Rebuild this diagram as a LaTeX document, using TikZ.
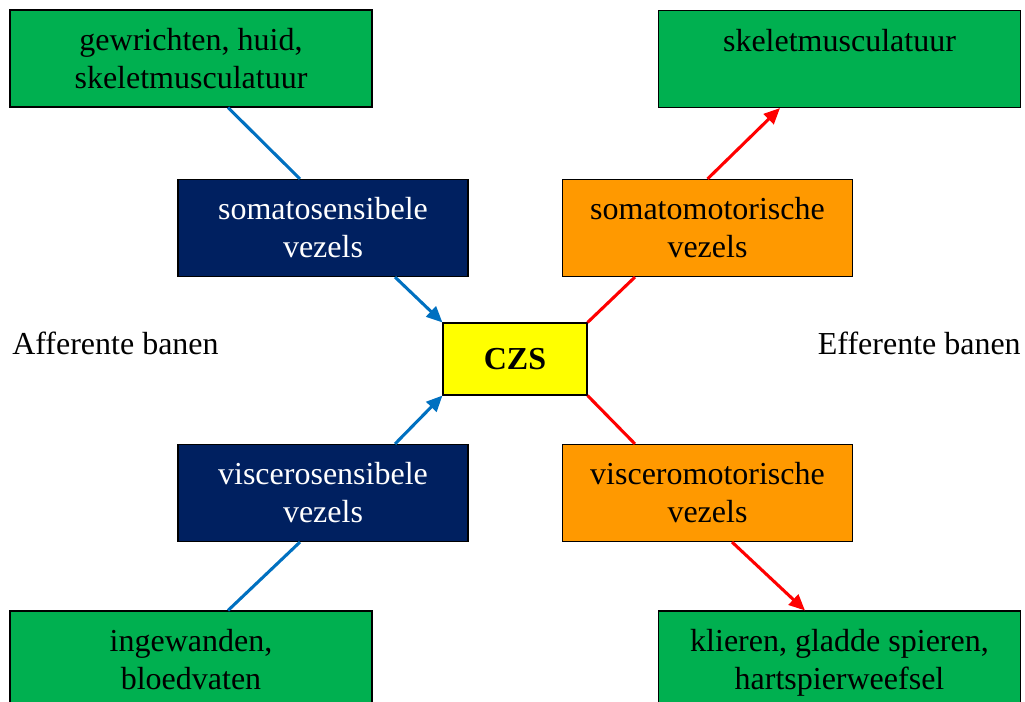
\documentclass[tikz,border=0pt]{standalone}
\usepackage{fontspec}
\setmainfont{Liberation Serif}
\usetikzlibrary{arrows.meta,calc}
\definecolor{organgreen}{RGB}{0,176,80}
\definecolor{sensblue}{RGB}{0,32,96}
\definecolor{motororange}{RGB}{255,153,0}
\definecolor{czsyellow}{RGB}{255,255,0}
\definecolor{affblue}{RGB}{0,112,192}
\definecolor{effred}{RGB}{255,0,0}
\newcommand{\boxfont}{\fontsize{24}{28.5}\selectfont}
\tikzset{
  box/.style={draw=black,line width=0.8pt,inner sep=0pt,align=center,font=\boxfont},
  organ/.style={box,fill=organgreen,minimum width=271.5pt,minimum height=72.75pt},
  organtext/.style={inner sep=0pt,align=center,anchor=north,font=\boxfont},
  sensory/.style={box,fill=sensblue,text=white,minimum width=217.5pt,minimum height=72.75pt},
  motor/.style={box,fill=motororange,minimum width=217pt,minimum height=72.75pt},
  centre/.style={box,fill=czsyellow,minimum width=108pt,minimum height=54pt,font=\boxfont\bfseries},
  afferent/.style={draw=affblue,line width=2.3pt},
  efferent/.style={draw=effred,line width=2.3pt},
  arrowed/.style={-{Triangle[length=12pt,width=10.5pt]}},
  side/.style={inner sep=0pt,font=\boxfont},
}
\begin{document}
\begin{tikzpicture}[x=0.75pt,y=-0.75pt]
  \useasboundingbox (0,0) rectangle (1025,702);

  \node[organ] (joints) at (191,58.5) {};
  \node[organtext] (jointstext) at ($(joints.north)+(0,19)$) {gewrichten, huid,\\skeletmusculatuur};
  \node[organ] (muscle) at (839.5,59) {};
  \node[organtext] (muscletext) at ($(muscle.north)+(0,19)$) {skeletmusculatuur};
  \node[organ] (viscera) at (191,659.5) {};
  \node[organtext] (visceratext) at ($(viscera.north)+(0,19)$) {ingewanden,\\bloedvaten};
  \node[organ] (glands) at (839.5,659.5) {};
  \node[organtext] (glandstext) at ($(glands.north)+(0,19)$) {klieren, gladde spieren,\\hartspierweefsel};

  \node[sensory] (somsens) at (323,228) {somatosensibele\\vezels};
  \node[sensory] (vissens) at (323,493) {viscerosensibele\\vezels};
  \node[motor] (sommot) at (707.5,228) {somatomotorische\\vezels};
  \node[motor] (vismot) at (707.5,493) {visceromotorische\\vezels};

  \node[centre] (czs) at (515,359) {CZS};

  \node[side,anchor=west] (afferent) at (12,343) {Afferente banen};
  \node[side,anchor=east] (efferent) at (1021,343) {Efferente banen};

  \draw[afferent] ($(joints.south)+(37,0)$) -- ($(somsens.north)+(-23,0)$);
  \draw[afferent,arrowed] ($(somsens.south)+(72,0)$) -- (czs.north west);
  \draw[afferent] ($(viscera.north)+(37,0)$) -- ($(vissens.south)+(-23,0)$);
  \draw[afferent,arrowed] ($(vissens.north)+(72,0)$) -- (czs.south west);

  \draw[efferent] (czs.north east) -- ($(sommot.south)+(-72.5,0)$);
  \draw[efferent,arrowed] (sommot.north) -- ($(muscle.south)+(-59.5,0)$);
  \draw[efferent] (czs.south east) -- ($(vismot.north)+(-72.5,0)$);
  \draw[efferent,arrowed] ($(vismot.south)+(24.5,0)$) -- ($(glands.north)+(-34.5,0)$);
\end{tikzpicture}
\end{document}
